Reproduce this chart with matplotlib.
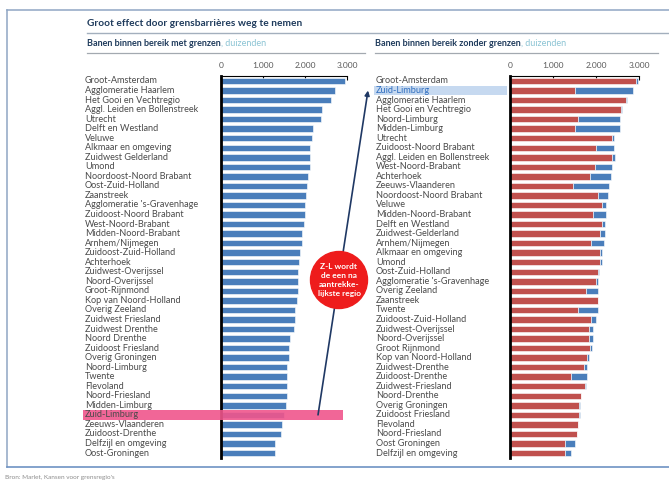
import matplotlib
matplotlib.use("Agg")
import matplotlib.pyplot as plt
from matplotlib import transforms
from matplotlib.patches import Rectangle, Circle, ConnectionPatch

W, H = 669, 483
plt.rcParams['font.family'] = ['Lato', 'DejaVu Sans']

# Left panel: jobs within reach with borders (duizenden)
regions_met = [
    "Groot-Amsterdam", "Agglomeratie Haarlem", "Het Gooi en Vechtregio",
    "Aggl. Leiden en Bollenstreek", "Utrecht", "Delft en Westland", "Veluwe",
    "Alkmaar en omgeving", "Zuidwest Gelderland", "Umond",
    "Noordoost-Noord Brabant", "Oost-Zuid-Holland", "Zaanstreek",
    "Agglomeratie 's-Gravenhage", "Zuidoost-Noord Brabant", "West-Noord-Brabant",
    "Midden-Noord-Brabant", "Arnhem/Nijmegen", "Zuidoost-Zuid-Holland",
    "Achterhoek", "Zuidwest-Overijssel", "Noord-Overijssel", "Groot-Rijnmond",
    "Kop van Noord-Holland", "Overig Zeeland", "Zuidwest Friesland",
    "Zuidwest Drenthe", "Noord Drenthe", "Zuidoost Friesland", "Overig Groningen",
    "Noord-Limburg", "Twente", "Flevoland", "Noord-Friesland", "Midden-Limburg",
    "Zuid-Limburg", "Zeeuws-Vlaanderen", "Zuidoost-Drenthe",
    "Delfzijl en omgeving", "Oost-Groningen",
]
banen_met = [
    2950, 2720, 2610, 2400, 2390, 2190, 2160, 2130, 2130, 2130,
    2080, 2050, 2030, 2010, 2000, 1970, 1930, 1930, 1890, 1850,
    1840, 1840, 1830, 1810, 1770, 1760, 1730, 1650, 1610, 1610,
    1580, 1570, 1565, 1560, 1550, 1490, 1450, 1420, 1290, 1290,
]

# Right panel: with borders (red) and total without borders (red + blue)
regions_zonder = [
    "Groot-Amsterdam", "Zuid-Limburg", "Agglomeratie Haarlem",
    "Het Gooi en Vechtregio", "Noord-Limburg", "Midden-Limburg", "Utrecht",
    "Zuidoost-Noord Brabant", "Aggl. Leiden en Bollenstreek", "West-Noord-Brabant",
    "Achterhoek", "Zeeuws-Vlaanderen", "Noordoost-Noord Brabant", "Veluwe",
    "Midden-Noord-Brabant", "Delft en Westland", "Zuidwest-Gelderland",
    "Arnhem/Nijmegen", "Alkmaar en omgeving", "Umond", "Oost-Zuid-Holland",
    "Agglomeratie 's-Gravenhage", "Overig Zeeland", "Zaanstreek", "Twente",
    "Zuidoost-Zuid-Holland", "Zuidwest-Overijssel", "Noord-Overijssel",
    "Groot Rijnmond", "Kop van Noord-Holland", "Zuidwest-Drenthe",
    "Zuidoost-Drenthe", "Zuidwest-Friesland", "Noord-Drenthe", "Overig Groningen",
    "Zuidoost Friesland", "Flevoland", "Noord-Friesland", "Oost Groningen",
    "Delfzijl en omgeving",
]
zonder_met = [
    2940, 1500, 2690, 2570, 1580, 1520, 2380, 1990, 2380, 1970,
    1850, 1460, 2050, 2150, 1940, 2150, 2100, 1890, 2100, 2090,
    2040, 2000, 1770, 2040, 1580, 1880, 1830, 1830, 1850, 1800,
    1730, 1420, 1740, 1650, 1610, 1610, 1570, 1560, 1290, 1290,
]
zonder_totaal = [
    2980, 2850, 2720, 2600, 2550, 2550, 2420, 2420, 2440, 2380,
    2340, 2300, 2280, 2240, 2230, 2220, 2210, 2180, 2140, 2130,
    2080, 2050, 2045, 2040, 2040, 2010, 1940, 1930, 1910, 1830,
    1800, 1790, 1760, 1660, 1630, 1625, 1580, 1565, 1520, 1420,
]

ticks = [0, 1000, 2000, 3000]
tick_labels = ["0", "1.000", "2.000", "3.000"]

blue = "#4A7EBB"
red = "#C0504D"
label_col = "#4A4A4A"
navy = "#1F3B5C"

fig = plt.figure(figsize=(W / 100, H / 100), dpi=100)

def px(x0, y0, x1, y1):
    return [x0 / W, 1 - y1 / H, (x1 - x0) / W, (y1 - y0) / H]

ax1 = fig.add_axes(px(221, 76.2, 347, 457.8))
ax2 = fig.add_axes(px(510, 76.2, 639, 457.8))

for ax in (ax1, ax2):
    ax.set_xlim(0, 3000)
    ax.set_ylim(len(regions_met) - 0.5, -0.5)
    ax.xaxis.tick_top()
    ax.set_xticks(ticks, tick_labels)
    ax.set_yticks([])
    ax.tick_params(axis="x", direction="in", length=3, width=0.8,
                   labelsize=6, pad=5, labelcolor="#595959")
    for s in ("right", "bottom"):
        ax.spines[s].set_visible(False)
    ax.spines["top"].set_linewidth(0.8)
    ax.spines["left"].set_linewidth(2.0)
    ax.patch.set_alpha(0)

# left bars
y1 = range(len(regions_met))
ax1.barh(y1, banen_met, height=0.68, color=blue, edgecolor="white",
         linewidth=0.4, zorder=2)
tr1 = transforms.blended_transform_factory(fig.transFigure, ax1.transData)
for i, name in enumerate(regions_met):
    ax1.text(85 / W, i, name, transform=tr1, va="center", ha="left",
             fontsize=6.6, color=label_col, clip_on=False, zorder=5)
zl = regions_met.index("Zuid-Limburg")
ax1.add_patch(Rectangle((83 / W, zl - 0.5), (343 - 83) / W, 1.0, transform=tr1,
                        color="#F0558C", alpha=0.9, clip_on=False, zorder=3,
                        linewidth=0))

# right bars
y2 = range(len(regions_zonder))
extra = [t - m for t, m in zip(zonder_totaal, zonder_met)]
ax2.barh(y2, zonder_met, height=0.68, color=red, edgecolor="white",
         linewidth=0.4, zorder=2)
ax2.barh(y2, extra, left=zonder_met, height=0.68, color=blue,
         edgecolor="white", linewidth=0.4, zorder=2)
tr2 = transforms.blended_transform_factory(fig.transFigure, ax2.transData)
zr = regions_zonder.index("Zuid-Limburg")
for i, name in enumerate(regions_zonder):
    ax2.text(376 / W, i, name, transform=tr2, va="center", ha="left",
             fontsize=6.6, color="#2F6EC0" if i == zr else label_col,
             clip_on=False, zorder=5)
ax2.add_patch(Rectangle((374 / W, zr - 0.5), (507 - 374) / W, 1.0, transform=tr2,
                        color="#C6D9F0", clip_on=False, zorder=1, linewidth=0))

# arrow from Zuid-Limburg (left) to Zuid-Limburg (right)
arrow = ConnectionPatch(xyA=(2310, zl), coordsA=ax1.transData,
                        xyB=(368 / W, zr), coordsB=tr2,
                        arrowstyle="-|>", mutation_scale=7,
                        color="#1F3864", lw=1.2, zorder=3)
fig.add_artist(arrow)

# overlay in pixel coordinates for frame, titles and callout
ov = fig.add_axes([0, 0, 1, 1], zorder=4)
ov.set_xlim(0, W)
ov.set_ylim(H, 0)
ov.axis("off")
ov.patch.set_alpha(0)

frame = "#8FA6C4"
ov.plot([7, W], [10, 10], color=frame, lw=1.1)
ov.plot([7, 7], [10, 467], color=frame, lw=1.1)
ov.plot([7, W], [467, 467], color="#6E92C4", lw=1.2)
ov.plot([87, W], [33, 33], color="#A3AFBD", lw=1.0)
ov.plot([87, 365], [53, 53], color="#A3A9B0", lw=0.9)
ov.plot([375, 658], [53, 53], color="#A3A9B0", lw=0.9)

ov.text(87, 24, "Groot effect door grensbarrières weg te nemen", fontsize=7.3,
        fontweight="bold", color=navy, va="center", ha="left")
for x0, txt in [(87, "Banen binnen bereik met grenzen"),
                (375, "Banen binnen bereik zonder grenzen")]:
    t = ov.text(x0, 48, txt, fontsize=6.5, fontweight="bold", color=navy,
                va="bottom", ha="left")
    ov.annotate(", duizenden", xy=(1, 0), xycoords=t, va="bottom", ha="left",
                fontsize=6.5, color="#8CC4D4")

ov.add_patch(Circle((339, 280), 28.5, color="#EE1C1C", zorder=5))
ov.text(339, 280, "Z-L wordt\nde een na\naantrekke-\nlijkste regio",
        fontsize=6.0, fontweight="bold", color="white", ha="center",
        va="center", linespacing=1.35, zorder=6)

ov.text(5, 478, "Bron: Marlet, Kansen voor grensregio's", fontsize=4.6,
        color="#8C8C8C", va="center", ha="left")

fig.savefig("out.png", dpi=100)
